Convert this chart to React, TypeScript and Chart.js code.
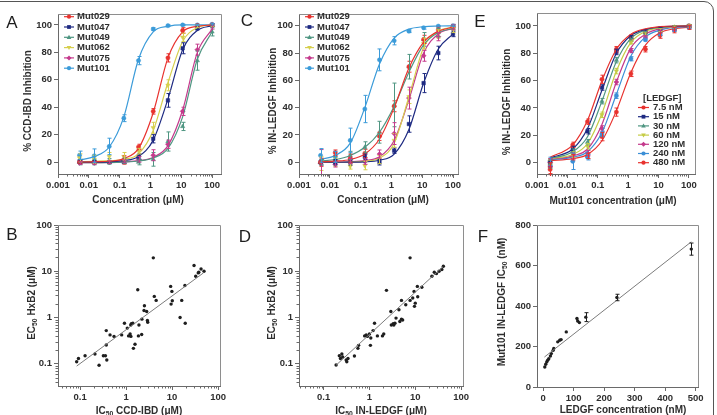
import React, { useEffect, useRef } from "react";
import { Chart, registerables } from "chart.js";

Chart.register(...registerables);

const FONT = "'Liberation Sans', Arial, Helvetica, sans-serif";
const TEXT = "#2e2e2e";
const AXIS = "#6a6a6a";
const FRAME = "#8e8e8e";

// ---------------- Panels A & C : concentration (µM) ----------------
const concAC = [0.005, 0.015, 0.046, 0.137, 0.41, 1.23, 3.7, 11.1, 33.3, 100];
const mutLabels = ["Mut029", "Mut047", "Mut049", "Mut062", "Mut075", "Mut101"];
const mutColors = ["#e8322e", "#1e2a82", "#4f9682", "#d6cf4e", "#c43a8c", "#3b9bd9"];
const mutShapes = ["circle", "rect", "triangle", "triangleDown", "rectRot", "circle"];

// Panel A – % CCD-IBD inhibition
const a029 = [0, 0, 0, 1.5, 11, 37, 76, 96, 99.5, 100];
const a047 = [0.5, 0, 0, 0, 4, 17, 45, 83, 97.5, 100];
const a049 = [0, 0, 0.5, 1, 0, 2, 15, 26, 74, 95];
const a062 = [3, 2, 4, 4, 8, 25, 56, 91, 99, 100];
const a075 = [-0.7, -0.7, 0, 0.5, 2, 5, 13, 37, 82, 99];
const a101 = [5, 4.6, 11.4, 32, 74, 97, 99.5, 100, 100, 100.5];
const a029Err = [1, 1, 1, 3, 2, 2, 3, 2, 1, 1];
const a047Err = [1, 1, 1, 1, 2, 3, 5, 4, 1, 1];
const a049Err = [2, 2, 2, 2, 2, 5, 7, 3, 7, 3];
const a062Err = [3, 3, 3, 3, 2, 4, 4, 3, 1, 1];
const a075Err = [1, 1, 1, 1, 2, 4, 3, 3, 4, 2];
const a101Err = [3, 5, 6, 2.5, 3, 1, 0.5, 0.5, 0.5, 0.5];
const a029Fit = [0, 0.2, 0.6, 2.5, 10, 36, 76, 95, 99, 100];
const a047Fit = [0, 0, 0.2, 1, 4, 16, 46, 82, 96, 99.5];
const a049Fit = [-0.5, -0.5, -0.4, 0, 0.8, 3, 10, 33, 75, 95];
const a062Fit = [0.3, 0.5, 1, 2, 6, 23, 58, 88, 98, 100];
const a075Fit = [-0.5, -0.5, -0.3, 0.2, 1, 3.5, 12, 38, 80, 97];
const a101Fit = [1.5, 4, 11, 33, 75, 95, 99, 100, 100, 100];

// Panel C – % IN-LEDGF inhibition
const c029 = [0, 7, 3, 6.5, 19, 41, 70, 90, 97, 99.5];
const c047 = [0, 0, 0, 4, 0, 8.5, 28, 58, 80, 94];
const c049 = [0, 2, 5, 11, 22, 42, 70, 90, 95, 99];
const c062 = [-1, 0, -3, -2.5, 2, 16, 48, 87, 94, 97];
const c075 = [-0.7, -1.5, 1, 0.5, 6, 21, 47, 78, 92, 99];
const c101 = [5, 4, 16, 39, 75, 89, 96, 98.5, 99.7, 100];
const c029Err = [3, 2, 3, 3, 3, 4, 4, 3, 2, 1];
const c047Err = [2, 2, 2, 2, 2, 2, 6, 7, 5, 2];
const c049Err = [2, 2, 3, 4, 8, 16, 9, 5, 3, 2];
const c062Err = [5, 3, 2, 3, 3, 5, 5, 4, 3, 2];
const c075Err = [10, 2, 2, 2, 3, 8, 8, 4, 3, 2];
const c101Err = [5, 4, 9, 10, 8, 3, 1, 1, 0.5, 0.5];
const c029Fit = [0.3, 0.8, 2, 6, 17, 40, 69, 88, 96, 99];
const c047Fit = [0, 0, 0.1, 0.3, 1.5, 6, 24, 58, 83, 94];
const c049Fit = [1, 2, 5, 11, 22, 41, 66, 86, 95, 98];
const c062Fit = [0, 0, 0.2, 0.8, 3, 14, 48, 84, 96, 99];
const c075Fit = [0, 0, 0.3, 1.2, 4, 16, 46, 80, 94, 98];
const c101Fit = [2, 5, 14, 40, 72, 91, 97.5, 99.3, 99.8, 100];

// ---------------- Panel E : Mut101 vs [LEDGF] ----------------
const concE = [0.0027, 0.015, 0.046, 0.137, 0.41, 1.23, 3.7, 11.1, 33.3, 100];
const ledgfLabels = ["7.5 nM", "15 nM", "30 nM", "60 nM", "120 nM", "240 nM", "480 nM"];
const ledgfColors = ["#e8322e", "#1e2a82", "#4f9682", "#c5cc45", "#c43a8c", "#3b8fd6", "#e8322e"];
const ledgfShapes = ["circle", "rect", "triangle", "triangleDown", "rectRot", "circle", "circle"];
const e7_5 = [-3, 13, 30, 61, 83, 92, 96, 98, 99, 100];
const e15 = [0, 10, 23, 55, 81, 92, 96, 98, 99, 100];
const e30 = [-1, 8, 15, 45, 75, 90, 95, 97, 99, 100];
const e60 = [1, 6, 12, 35, 67, 88, 94, 97, 99, 100];
const e120 = [0, 5, 7, 25, 59, 82, 92, 96, 98, 99.5];
const e240 = [1, 1, 4, 21, 49, 76, 90, 94, 97, 99];
const e480 = [-5, 4, 5, 19, 37, 65, 83, 93, 97, 99];
const e7_5Err = [5, 2, 2, 3, 2, 1.5, 1, 1, 1, 1];
const e15Err = [3, 2, 2, 2, 2, 1, 1, 1, 1, 1];
const e30Err = [3, 2, 2, 2, 2, 1, 1, 1, 1, 1];
const e60Err = [2, 2, 2, 2, 2, 1, 1, 1, 1, 1];
const e120Err = [3, 2, 2, 2, 2, 1.5, 1, 1, 1, 1];
const e240Err = [3, 6, 2, 2, 2, 1.5, 1, 1, 1, 1];
const e480Err = [5, 2, 2, 3, 3, 2, 2, 2, 2, 1.5];
const e7_5Fit = [4, 13, 31, 60, 83, 94, 98, 99.5, 100, 100];
const e15Fit = [3.5, 10, 25, 53, 80, 93, 97.5, 99.3, 99.8, 100];
const e30Fit = [3, 8, 19, 45, 74, 91, 97, 99, 99.7, 100];
const e60Fit = [3, 6, 14, 36, 67, 88, 96, 98.7, 99.5, 100];
const e120Fit = [2.5, 5, 10, 28, 59, 84, 94, 98, 99.3, 99.8];
const e240Fit = [2, 4, 8, 22, 50, 78, 92, 97, 99, 99.5];
const e480Fit = [1.5, 3, 6, 16, 38, 66, 86, 95, 98, 99.2];

// ---------------- Panel B : EC50 vs IC50 CCD-IBD ----------------
const bX = [0.084, 0.092, 0.128, 0.21, 0.258, 0.32, 0.355, 0.37, 0.38, 0.37, 0.447, 0.546, 0.8, 0.92, 1.06, 1.13, 1.22, 1.26, 1.3, 1.4, 1.27, 1.44, 1.56, 1.79, 1.85, 1.9, 2.18, 2.2, 2.45, 2.5, 2.8, 2.9, 2.95, 3.9, 4.1, 4.5, 9.3, 9.5, 9.9, 10.1, 14.9, 16.2, 19, 19.3, 30, 32.6, 37, 38, 42.6, 49.4];
const bY = [0.11, 0.13, 0.149, 0.162, 0.093, 0.149, 0.149, 0.255, 0.12, 0.52, 0.42, 0.39, 0.42, 0.75, 0.59, 0.4, 0.44, 0.69, 0.73, 0.75, 0.39, 0.215, 0.263, 3.99, 0.4, 0.69, 0.43, 0.92, 1.42, 1.79, 1.35, 0.86, 0.79, 19.5, 2.86, 2.34, 4.7, 1.95, 3.67, 2.3, 1.0, 2.34, 4.9, 0.75, 13.3, 7.8, 9.2, 9.5, 11.2, 10];
const bFitX = [0.084, 48];
const bFitY = [0.089, 9.2];

// ---------------- Panel D : EC50 vs IC50 IN-LEDGF ----------------
const dX = [0.187, 0.22, 0.233, 0.25, 0.26, 0.31, 0.32, 0.34, 0.47, 0.56, 0.58, 0.785, 0.85, 0.9, 1.0, 1.05, 1.07, 1.2, 1.29, 1.49, 1.92, 2.05, 2.35, 2.93, 3.0, 3.3, 3.4, 3.6, 3.8, 4.4, 4.6, 5.0, 5.3, 5.0, 6.2, 7.7, 7.7, 8.8, 9.4, 9.6, 10, 11.3, 11.1, 13.9, 23, 26, 29, 33, 38, 41];
const dY = [0.094, 0.149, 0.13, 0.162, 0.14, 0.12, 0.11, 0.13, 0.147, 0.215, 0.25, 0.4, 0.42, 0.39, 0.44, 0.25, 0.36, 0.52, 0.75, 0.4, 0.4, 0.44, 3.86, 1.35, 0.69, 0.73, 0.69, 0.75, 0.97, 1.47, 0.82, 0.92, 0.88, 2.34, 1.88, 19.5, 2.34, 2.63, 3.67, 1.74, 2.04, 2.8, 4.7, 4.5, 7.8, 9.5, 8.9, 10, 10.9, 12.8];
const dFitX = [0.187, 39.6];
const dFitY = [0.093, 12.4];

// ---------------- Panel F : IC50 vs LEDGF concentration ----------------
const fX = [5.5, 8.7, 12, 15, 18.6, 24, 27, 33, 35, 48, 54.6, 59, 76, 111, 113.5, 119, 140, 242, 486];
const fY = [99, 112, 124, 132, 140, 153, 165, 181, 190, 223, 231, 234, 272, 338, 326, 318, 345, 442, 681];
const fErr = [0, 0, 0, 0, 0, 0, 0, 0, 0, 0, 0, 0, 0, 0, 0, 0, 22, 16, 30];
const fFitX = [4.4, 486];
const fFitY = [148, 717];

// ---------------- tick labels ----------------
const concTicks = [0.001, 0.01, 0.1, 1, 10, 100];
const pctTicks = [0, 20, 40, 60, 80, 100];
const ec50Ticks = [0.1, 1, 10, 100];
const ledgfTicks = [0, 100, 200, 300, 400, 500];
const ic50Ticks = [0, 200, 400, 600, 800];

// ---------------- helpers ----------------
function drawMarker(ctx: CanvasRenderingContext2D, shape: string, x: number, y: number, r: number, color: string) {
  ctx.beginPath();
  if (shape === "rect") ctx.rect(x - r * 0.9, y - r * 0.9, r * 1.8, r * 1.8);
  else if (shape === "triangle") {
    ctx.moveTo(x, y - r * 1.2); ctx.lineTo(x + r * 1.1, y + r * 0.8); ctx.lineTo(x - r * 1.1, y + r * 0.8); ctx.closePath();
  } else if (shape === "triangleDown") {
    ctx.moveTo(x, y + r * 1.2); ctx.lineTo(x + r * 1.1, y - r * 0.8); ctx.lineTo(x - r * 1.1, y - r * 0.8); ctx.closePath();
  } else if (shape === "rectRot") {
    ctx.moveTo(x, y - r * 1.2); ctx.lineTo(x + r * 1.2, y); ctx.lineTo(x, y + r * 1.2); ctx.lineTo(x - r * 1.2, y); ctx.closePath();
  } else ctx.arc(x, y, r, 0, Math.PI * 2);
  ctx.fillStyle = color;
  ctx.fill();
}

function curveSets(xs: number[], values: number[][], errors: number[][], fits: number[][], colors: string[], shapes: string[], labels: string[]) {
  const sets: any[] = [];
  values.forEach((vals, i) => {
    sets.push({
      label: labels[i] + " fit",
      data: xs.map((x, j) => ({ x, y: fits[i][j] })),
      showLine: true, borderColor: colors[i], borderWidth: 1.2, pointRadius: 0,
      cubicInterpolationMode: "monotone", fill: false,
    });
  });
  values.forEach((vals, i) => {
    const sh = shapes[i];
    sets.push({
      label: labels[i],
      data: xs.map((x, j) => ({ x, y: vals[j] })),
      showLine: false, pointRadius: sh === "circle" ? 2.1 : 2.5,
      pointStyle: sh === "triangleDown" ? "triangle" : sh,
      pointRotation: sh === "triangleDown" ? 180 : 0,
      backgroundColor: colors[i], borderColor: colors[i], borderWidth: 0.5,
      errors: errors[i],
    });
  });
  return sets;
}

function scatterSets(xs: number[], ys: number[], fitX: number[], fitY: number[], errs?: number[]) {
  return [
    { label: "fit", data: fitX.map((x, j) => ({ x, y: fitY[j] })), showLine: true, borderColor: "#7c7c7c", borderWidth: 1, pointRadius: 0 },
    { label: "points", data: xs.map((x, j) => ({ x, y: ys[j] })), showLine: false, pointRadius: 1.7, pointStyle: "circle", backgroundColor: "#1e1e1e", borderColor: "#1e1e1e", borderWidth: 0, errors: errs },
  ];
}

const errorBarPlugin = {
  id: "errorBars",
  afterDatasetsDraw(chart: any) {
    const { ctx, chartArea: a } = chart;
    const xs = chart.scales.x, ys = chart.scales.y;
    ctx.save();
    ctx.beginPath(); ctx.rect(a.left, a.top - 2, a.right - a.left, a.bottom - a.top + 4); ctx.clip();
    ctx.lineWidth = 1;
    chart.data.datasets.forEach((ds: any) => {
      if (!ds.errors) return;
      ctx.strokeStyle = ds.borderColor;
      ds.data.forEach((p: any, j: number) => {
        const e = ds.errors[j];
        if (!e) return;
        const px = Math.round(xs.getPixelForValue(p.x)) + 0.5;
        const y1 = ys.getPixelForValue(p.y - e), y2 = ys.getPixelForValue(p.y + e);
        ctx.beginPath();
        ctx.moveTo(px, y1); ctx.lineTo(px, y2);
        ctx.moveTo(px - 2, y1); ctx.lineTo(px + 2, y1);
        ctx.moveTo(px - 2, y2); ctx.lineTo(px + 2, y2);
        ctx.stroke();
      });
    });
    ctx.restore();
  },
};

const framePlugin = {
  id: "frame",
  beforeDatasetsDraw(chart: any) {
    const { ctx, chartArea: a } = chart;
    ctx.save();
    ctx.strokeStyle = FRAME; ctx.lineWidth = 1;
    const t = Math.round(a.top) + 0.5, r = Math.round(a.right) + 0.5;
    ctx.beginPath(); ctx.moveTo(a.left, t); ctx.lineTo(r, t); ctx.lineTo(r, a.bottom); ctx.stroke();
    ctx.restore();
  },
};

function minorTicksPlugin(mx: boolean, my: boolean) {
  return {
    id: "minorTicks",
    afterDraw(chart: any) {
      const { ctx, chartArea: a } = chart;
      ctx.save(); ctx.strokeStyle = AXIS; ctx.lineWidth = 1;
      const draw = (scale: any, isX: boolean) => {
        const lo = Math.floor(Math.log10(scale.min)), hi = Math.ceil(Math.log10(scale.max));
        for (let d = lo; d <= hi; d++) for (let k = 2; k <= 9; k++) {
          const v = k * Math.pow(10, d);
          if (v < scale.min || v > scale.max) continue;
          const p = Math.round(scale.getPixelForValue(v)) + 0.5;
          ctx.beginPath();
          if (isX) { ctx.moveTo(p, a.bottom); ctx.lineTo(p, a.bottom + 2.5); }
          else { ctx.moveTo(a.left, p); ctx.lineTo(a.left - 2.5, p); }
          ctx.stroke();
        }
      };
      if (mx) draw(chart.scales.x, true);
      if (my) draw(chart.scales.y, false);
      ctx.restore();
    },
  };
}

function legendPlugin(L: any) {
  return {
    id: "panelLegend",
    afterDraw(chart: any) {
      const { ctx, chartArea: a } = chart;
      const x0 = a.left + L.dx;
      let y = a.top + L.dy;
      ctx.save();
      ctx.font = `bold ${L.size}px ${FONT}`;
      ctx.textBaseline = "middle";
      ctx.textAlign = "left";
      if (L.title) { ctx.fillStyle = TEXT; ctx.fillText(L.title, x0 + L.titleDx, y); y += L.step; }
      L.labels.forEach((lab: string, i: number) => {
        ctx.strokeStyle = L.colors[i]; ctx.lineWidth = 1.2;
        ctx.beginPath(); ctx.moveTo(x0, y); ctx.lineTo(x0 + L.len, y); ctx.stroke();
        drawMarker(ctx, L.shapes[i], x0 + L.len / 2, y, 2.1, L.colors[i]);
        ctx.fillStyle = TEXT; ctx.fillText(lab, x0 + L.len + L.gap, y);
        y += L.step;
      });
      ctx.restore();
    },
  };
}

function axis(a: any, dir: "x" | "y") {
  return {
    type: a.type, min: a.min, max: a.max, position: dir === "x" ? "bottom" : "left",
    afterBuildTicks: (s: any) => { s.ticks = a.ticks.map((v: number) => ({ value: v })); },
    afterFit: (s: any) => { if (dir === "x") s.height = a.size; else s.width = a.size; },
    ticks: {
      autoSkip: false, maxRotation: 0, minRotation: 0, padding: 2, color: TEXT,
      font: { family: FONT, size: 9.5, weight: "bold" },
      callback: (v: any) => String(v),
    },
    grid: { display: true, drawOnChartArea: false, drawTicks: true, tickLength: 4, color: AXIS, lineWidth: 1 },
    border: { display: true, color: AXIS, width: 1 },
  };
}

function makeConfig(p: any) {
  const plugins: any[] = [framePlugin, errorBarPlugin, minorTicksPlugin(!!p.x.minor, !!p.y.minor)];
  if (p.legend) plugins.push(legendPlugin(p.legend));
  return {
    type: "scatter",
    data: { datasets: p.datasets },
    options: {
      animation: false, responsive: false, maintainAspectRatio: false, events: [],
      layout: { padding: { top: p.padTop, right: p.padRight, left: 0, bottom: 0 } },
      plugins: { legend: { display: false }, tooltip: { enabled: false } },
      scales: { x: axis(p.x, "x"), y: axis(p.y, "y") },
    },
    plugins,
  } as any;
}

function ChartPanel({ left, top, width, height, make }: any) {
  const ref = useRef<HTMLCanvasElement>(null);
  useEffect(() => {
    const chart = new Chart(ref.current as HTMLCanvasElement, make());
    return () => chart.destroy();
  }, []);
  return <canvas ref={ref} width={width} height={height} style={{ position: "absolute", left, top, width, height }} />;
}

const pctAxis = (min: number, max: number, size: number) => ({ type: "linear", min, max, ticks: pctTicks, size });
const concAxis = (max: number, size: number) => ({ type: "logarithmic", min: 0.001, max, ticks: concTicks, size, minor: true });

const panels = [
  {
    left: 0, top: 0, width: 232, height: 195,
    make: () => makeConfig({
      padTop: 14, padRight: 11,
      x: concAxis(195, 21), y: pctAxis(-8.7, 108, 58),
      datasets: curveSets(concAC, [a029, a047, a049, a062, a075, a101], [a029Err, a047Err, a049Err, a062Err, a075Err, a101Err], [a029Fit, a047Fit, a049Fit, a062Fit, a075Fit, a101Fit], mutColors, mutShapes, mutLabels),
      legend: { dx: 6, dy: 2.7, step: 10.3, len: 10, gap: 3, size: 9.5, labels: mutLabels, colors: mutColors, shapes: mutShapes },
    }),
  },
  {
    left: 240, top: 0, width: 230, height: 195,
    make: () => makeConfig({
      padTop: 14, padRight: 12,
      x: concAxis(145, 21), y: pctAxis(-8.6, 108.6, 59),
      datasets: curveSets(concAC, [c029, c047, c049, c062, c075, c101], [c029Err, c047Err, c049Err, c062Err, c075Err, c101Err], [c029Fit, c047Fit, c049Fit, c062Fit, c075Fit, c101Fit], mutColors, mutShapes, mutLabels),
      legend: { dx: 6, dy: 2.7, step: 10.3, len: 9, gap: 3, size: 9.5, labels: mutLabels, colors: mutColors, shapes: mutShapes },
    }),
  },
  {
    left: 478, top: 0, width: 229, height: 195,
    make: () => makeConfig({
      padTop: 13, padRight: 12,
      x: concAxis(158, 21), y: pctAxis(-8.3, 109.5, 59),
      datasets: curveSets(concE, [e7_5, e15, e30, e60, e120, e240, e480], [e7_5Err, e15Err, e30Err, e60Err, e120Err, e240Err, e480Err], [e7_5Fit, e15Fit, e30Fit, e60Fit, e120Fit, e240Fit, e480Fit], ledgfColors, ledgfShapes, ledgfLabels),
      legend: { dx: 101, dy: 85.3, step: 9.2, len: 11, gap: 4, size: 9.5, title: "[LEDGF]", titleDx: 5, labels: ledgfLabels, colors: ledgfColors, shapes: ledgfShapes },
    }),
  },
  {
    left: 0, top: 212, width: 232, height: 195,
    make: () => makeConfig({
      padTop: 13, padRight: 12,
      x: { type: "logarithmic", min: 0.033, max: 110, ticks: ec50Ticks, size: 21, minor: true },
      y: { type: "logarithmic", min: 0.033, max: 100, ticks: ec50Ticks, size: 58, minor: true },
      datasets: scatterSets(bX, bY, bFitX, bFitY),
    }),
  },
  {
    left: 240, top: 212, width: 235, height: 195,
    make: () => makeConfig({
      padTop: 13, padRight: 12,
      x: { type: "logarithmic", min: 0.029, max: 110, ticks: ec50Ticks, size: 21, minor: true },
      y: { type: "logarithmic", min: 0.033, max: 100, ticks: ec50Ticks, size: 59, minor: true },
      datasets: scatterSets(dX, dY, dFitX, dFitY),
    }),
  },
  {
    left: 478, top: 212, width: 232, height: 195,
    make: () => makeConfig({
      padTop: 13, padRight: 12,
      x: { type: "linear", min: -20, max: 508, ticks: ledgfTicks, size: 20 },
      y: { type: "linear", min: 0, max: 800, ticks: ic50Ticks, size: 59 },
      datasets: scatterSets(fX, fY, fFitX, fFitY, fErr),
    }),
  },
];

const Sub = ({ children }: any) => (
  <span style={{ fontSize: "0.68em", position: "relative", top: "0.3em" }}>{children}</span>
);

const titles: any[] = [
  { x: 28, y: 101, rot: true, content: "% CCD-IBD Inhibition" },
  { x: 138, y: 200, content: "Concentration (μM)" },
  { x: 273, y: 101, rot: true, content: "% IN-LEDGF Inhibition" },
  { x: 383, y: 200, content: "Concentration (μM)" },
  { x: 507, y: 102, rot: true, content: "% IN-LEDGF Inhibition" },
  { x: 613, y: 201, content: "Mut101 concentration (μM)" },
  { x: 32, y: 303, rot: true, content: <>EC<Sub>50</Sub> HxB2 (μM)</> },
  { x: 139, y: 411, content: <>IC<Sub>50</Sub> CCD-IBD (μM)</> },
  { x: 272, y: 303, rot: true, content: <>EC<Sub>50</Sub> HxB2 (μM)</> },
  { x: 381, y: 411, content: <>IC<Sub>50</Sub> IN-LEDGF (μM)</> },
  { x: 502, y: 302, rot: true, content: <>Mut101 IN-LEDGF IC<Sub>50</Sub> (nM)</> },
  { x: 623, y: 410, content: "LEDGF concentration (nM)" },
];

const letters = [
  { x: 12, y: 22, t: "A" },
  { x: 247, y: 20, t: "C" },
  { x: 480, y: 21, t: "E" },
  { x: 12, y: 234, t: "B" },
  { x: 245, y: 236, t: "D" },
  { x: 483, y: 236, t: "F" },
];

export default function App() {
  return (
    <div style={{ position: "absolute", left: 0, top: 0, width: 717, height: 415, overflow: "hidden", background: "#fff", fontFamily: FONT }}>
      <div style={{ position: "absolute", left: -12, top: 1, width: 726, height: 440, border: "1.5px solid #555", borderRadius: 10, boxSizing: "border-box" }} />
      {panels.map((p, i) => (
        <ChartPanel key={i} left={p.left} top={p.top} width={p.width} height={p.height} make={p.make} />
      ))}
      {titles.map((t, i) => (
        <div key={"t" + i} style={{
          position: "absolute", left: t.x, top: t.y, whiteSpace: "nowrap", lineHeight: 1,
          fontSize: 10, fontWeight: "bold", color: TEXT,
          transform: `translate(-50%, -50%)${t.rot ? " rotate(-90deg)" : ""}`,
        }}>{t.content}</div>
      ))}
      {letters.map((l, i) => (
        <div key={"l" + i} style={{
          position: "absolute", left: l.x, top: l.y, lineHeight: 1, fontSize: 17, color: "#1e1e1e",
          transform: "translate(-50%, -50%)",
        }}>{l.t}</div>
      ))}
    </div>
  );
}
